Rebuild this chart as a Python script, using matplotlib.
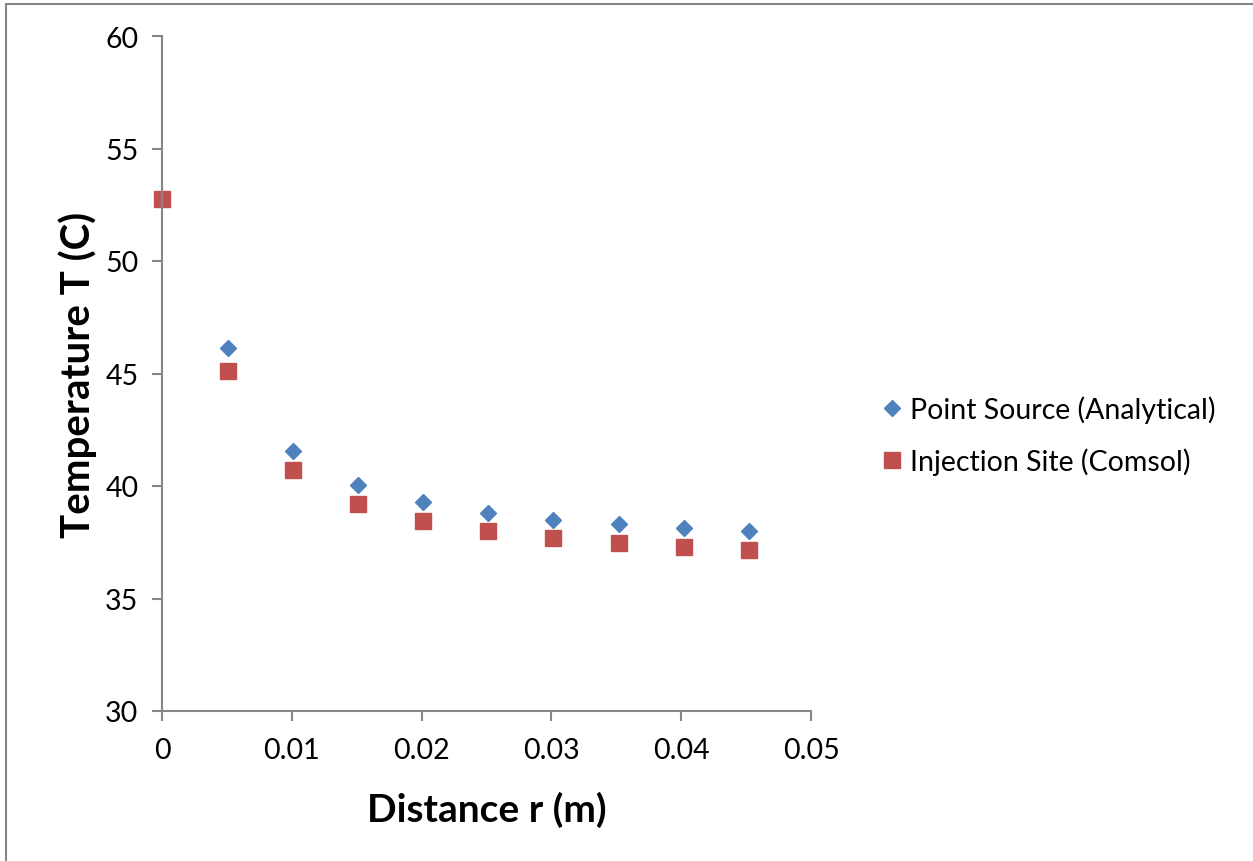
import matplotlib

matplotlib.use("Agg")
import matplotlib.pyplot as plt
from matplotlib.patches import Rectangle

# values
r_point = [0.0051, 0.0101, 0.0151, 0.0201, 0.0251, 0.0301, 0.0352, 0.0402, 0.0452]
t_point = [46.13, 41.56, 40.04, 39.29, 38.82, 38.50, 38.31, 38.14, 38.01]

r_inject = [0.0, 0.0051, 0.0101, 0.0151, 0.0201, 0.0251, 0.0301, 0.0352, 0.0402, 0.0452]
t_inject = [52.76, 45.09, 40.73, 39.22, 38.46, 38.01, 37.70, 37.47, 37.29, 37.16]

x_ticks = [0, 0.01, 0.02, 0.03, 0.04, 0.05]
x_labels = ["0", "0.01", "0.02", "0.03", "0.04", "0.05"]
y_ticks = [30, 35, 40, 45, 50, 55, 60]

plt.rcParams["font.family"] = ["Lato", "DejaVu Sans"]
gray = "#868686"

fig = plt.figure(figsize=(12.53, 8.62), dpi=100)
ax = fig.add_axes([162 / 1253, 150 / 862, 649 / 1253, 675 / 862])

ax.plot(r_point, t_point, linestyle="none", marker="D", markersize=8,
        color="#4F81BD", label="Point Source (Analytical)", clip_on=False)
ax.plot(r_inject, t_inject, linestyle="none", marker="s", markersize=11,
        color="#C0504D", label="Injection Site (Comsol)", clip_on=False)

ax.set_xlim(0, 0.05)
ax.set_ylim(30, 60)
ax.set_xticks(x_ticks)
ax.set_xticklabels(x_labels)
ax.set_yticks(y_ticks)
for side in ("top", "right"):
    ax.spines[side].set_visible(False)
for side in ("left", "bottom"):
    ax.spines[side].set_color(gray)
    ax.spines[side].set_linewidth(1.5)
ax.tick_params(colors=gray, width=1.5, length=7, labelcolor="black",
               labelsize=20.5)
ax.tick_params(axis="x", pad=12)
ax.tick_params(axis="y", pad=10)

ax.set_xlabel("Distance r (m)", fontsize=28, fontweight="bold", labelpad=20)
ax.set_ylabel("Temperature T (C)", fontsize=29, fontweight="bold", labelpad=6)

fig.legend(loc="center left", bbox_to_anchor=(862 / 1253, 1 - 436 / 862),
           frameon=False, fontsize=20.5, handletextpad=0.0, labelspacing=0.85,
           handlelength=1.3, borderaxespad=0)

# thin frame around the chart area
fig.patches.append(Rectangle((6 / 1253, -0.1), 1.2, 1.1 - 5 / 862,
                             transform=fig.transFigure, fill=False,
                             edgecolor=gray, linewidth=1.5))

fig.savefig("out.png", dpi=100)
